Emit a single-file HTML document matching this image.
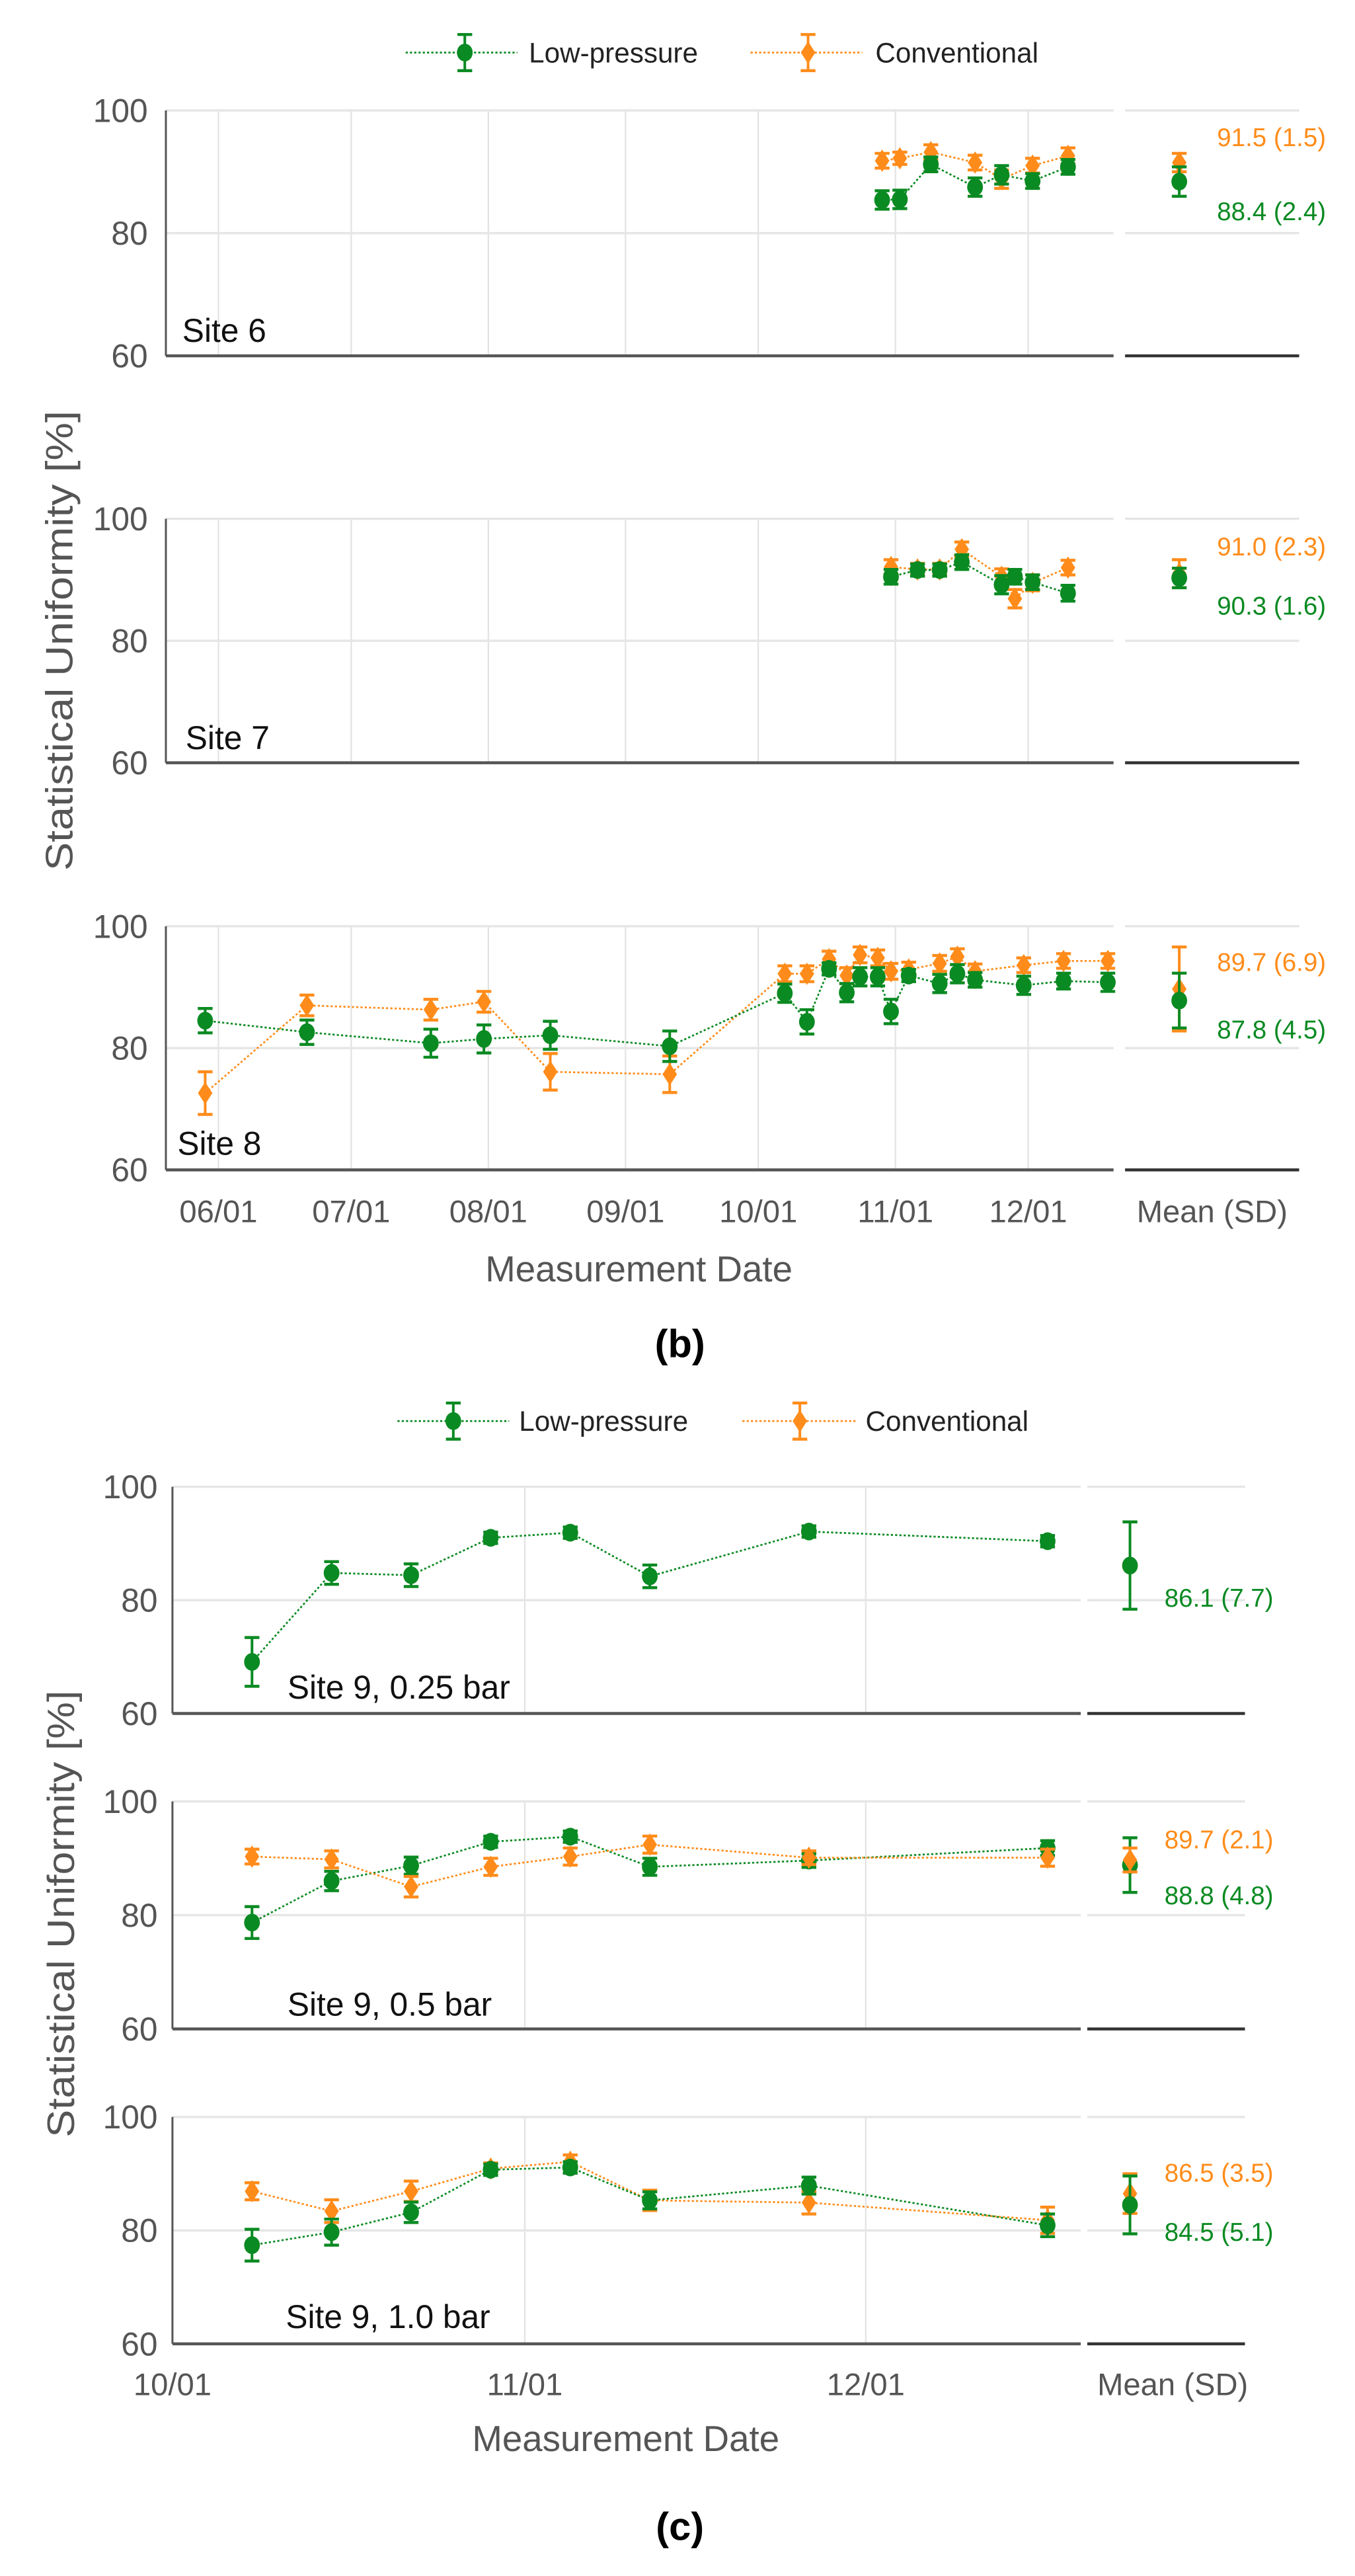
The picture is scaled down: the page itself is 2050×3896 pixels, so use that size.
<!DOCTYPE html>
<html><head><meta charset="utf-8"><style>
html,body{margin:0;padding:0;background:#fff;}
svg{display:block;}
text{font-family:"Liberation Sans",Arial,sans-serif;}
</style></head><body>
<svg id="chart" xmlns="http://www.w3.org/2000/svg" width="2050" height="3896" viewBox="0 0 825 1568" preserveAspectRatio="none">
<g id="layer"></g>
</svg>
<script>
// ---------- DATA ----------
const site6Dates = ["10-29","11-02","11-09","11-19","11-25","12-02","12-10"];
const site6Low = [85.4,85.5,91.2,87.5,89.5,88.5,90.8];
const site6LowErr = [1.5,1.5,1.2,1.5,1.5,1.2,1.2];
const site6Conv = [91.8,92.2,93.2,91.5,88.8,91.0,92.6];
const site6ConvErr = [1.2,1.0,1.2,1.2,1.5,1.2,1.3];
const site6Mean = {low:[88.4,2.4], conv:[91.5,1.5]};

const site7Dates = ["10-31","11-06","11-11","11-16","11-25","11-28","12-02","12-10"];
const site7Low = [90.5,91.6,91.6,92.9,89.2,90.5,89.6,87.8];
const site7LowErr = [1.2,1.0,1.0,1.2,1.5,1.2,1.2,1.3];
const site7Conv = [92.1,91.7,91.7,95.0,90.5,86.9,89.5,92.0];
const site7ConvErr = [1.2,1.0,1.0,1.2,1.3,1.5,1.3,1.2];
const site7Mean = {low:[90.3,1.6], conv:[91.0,2.3]};

const site8Dates = ["05-29","06-21","07-19","07-31","08-15","09-11","10-07","10-12","10-17","10-21","10-24","10-28","10-31","11-04","11-11","11-15","11-19","11-30","12-09","12-19"];
const site8Low = [84.5,82.6,80.8,81.5,82.1,80.3,89.0,84.3,93.0,89.1,91.7,91.7,86.0,91.9,90.6,92.2,91.2,90.3,91.0,90.8];
const site8LowErr = [2.0,2.0,2.3,2.3,2.3,2.5,1.5,2.0,1.0,1.5,1.5,1.5,2.0,1.0,1.5,1.5,1.2,1.5,1.3,1.5];
const site8Conv = [72.6,87.0,86.3,87.6,76.1,75.7,92.2,92.2,94.6,91.9,95.3,94.8,92.6,92.9,93.9,95.0,92.6,93.6,94.3,94.3];
const site8ConvErr = [3.5,1.7,1.7,1.7,3.0,3.0,1.3,1.3,1.3,1.3,1.3,1.3,1.3,1.2,1.3,1.3,1.2,1.2,1.2,1.2];
const site8Mean = {low:[87.8,4.5], conv:[89.7,6.9]};

const site9Dates = ["10-08","10-15","10-22","10-29","11-05","11-12","11-26","12-17"];
const s9aLow = [69.1,84.8,84.4,91.0,91.9,84.2,92.1,90.4];
const s9aLowErr = [4.3,2.0,2.0,1.0,1.0,2.0,1.0,1.0];
const s9aMean = {low:[86.1,7.7]};
const s9bLow = [78.7,86.0,88.7,92.9,93.8,88.5,89.6,91.8];
const s9bLowErr = [2.8,1.7,1.5,1.0,1.0,1.5,1.2,1.3];
const s9bConv = [90.3,89.8,85.0,88.5,90.3,92.4,90.1,90.1];
const s9bConvErr = [1.3,1.5,1.8,1.5,1.5,1.5,1.2,1.5];
const s9bMean = {low:[88.8,4.8], conv:[89.7,2.1]};
const s9cLow = [77.4,79.7,83.2,90.7,91.1,85.3,87.9,80.9];
const s9cLowErr = [2.8,2.3,1.8,1.0,1.0,1.5,1.5,2.0];
const s9cConv = [86.9,83.4,86.9,90.9,92.1,85.3,84.9,81.8];
const s9cConvErr = [1.5,2.0,1.8,1.0,1.2,1.8,2.0,2.3];
const s9cMean = {low:[84.5,5.1], conv:[86.5,3.5]};

const yTicks = [60,80,100];
const monthTicksB = ["06/01","07/01","08/01","09/01","10/01","11/01","12/01"];
const monthTicksC = ["10/01","11/01","12/01"];

// ---------- HELPERS ----------
const NS = "http://www.w3.org/2000/svg";
const layer = document.getElementById("layer");
const GREEN = "#0a8a22", ORANGE = "#ff8c1a";
const monthStart = {5:-31,6:0,7:30,8:61,9:92,10:122,11:153,12:183};
function dayOf(md){ const p = md.split(/[-\/]/).map(Number); return monthStart[p[0]] + p[1] - 1; }
function mk(tag, attrs, parent){ const e = document.createElementNS(NS, tag); for (const k in attrs) e.setAttribute(k, attrs[k]); (parent||layer).appendChild(e); return e; }
function txt(s, attrs, parent){ const e = mk("text", attrs, parent); e.textContent = s; return e; }

function errBar(g, x, yTop, yBot, color, cap){
  mk("line",{x1:x,x2:x,y1:yTop,y2:yBot,stroke:color,"stroke-width":1.6},g);
  mk("line",{x1:x-cap,x2:x+cap,y1:yTop,y2:yTop,stroke:color,"stroke-width":1.8},g);
  mk("line",{x1:x-cap,x2:x+cap,y1:yBot,y2:yBot,stroke:color,"stroke-width":1.8},g);
}
function marker(g, x, y, kind, color){
  if (kind === "circle") return mk("ellipse",{cx:x,cy:y,rx:4.8,ry:5.4,fill:color},g);
  return mk("path",{d:`M${x} ${y-6.8} L${x+4.4} ${y} L${x} ${y+6.8} L${x-4.4} ${y} Z`,fill:color},g);
}

function panel(cfg){
  const P = mk("g",{});
  
  
  const yS = v => cfg.y100 + (100 - v) * (cfg.y60 - cfg.y100) / 40;
  const xS = d => cfg.x0 + (dayOf(d) - cfg.day0) * cfg.ppd;
  cfg.vticks.forEach(t => {
    const gl = mk("line",{x1:xS(t),x2:xS(t),y1:cfg.y100,y2:cfg.y60,stroke:"#e3e3e3","stroke-width":0.9},P);
    
    
  });
  yTicks.forEach(v => {
    if (v !== 60) {
      const h1 = mk("line",{x1:cfg.xl,x2:cfg.xr,y1:yS(v),y2:yS(v),stroke:"#e6e6e6","stroke-width":1.4},P);
      
      
      const h2 = mk("line",{x1:cfg.ml,x2:cfg.mr,y1:yS(v),y2:yS(v),stroke:"#e6e6e6","stroke-width":1.4},P);
      
      
    }
    const tl = txt(String(v),{x:cfg.tickX,y:yS(v)+7,"text-anchor":"end","font-size":20,fill:"#555"},P);
    
    
  });
  const ax = mk("line",{x1:cfg.xl,x2:cfg.xl,y1:cfg.y100,y2:cfg.y60,stroke:"#555","stroke-width":1.2},P);
  
  
  const bx = mk("line",{x1:cfg.xl,x2:cfg.xr,y1:cfg.y60,y2:cfg.y60,stroke:"#555","stroke-width":1.8},P);
  
  
  const mb = mk("line",{x1:cfg.ml,x2:cfg.mr,y1:cfg.y60,y2:cfg.y60,stroke:"#333","stroke-width":1.8},P);
  
  
  const sl = txt(cfg.label,{x:cfg.labelX,y:cfg.labelY,"font-size":20,fill:"#111"},P);
  
  

  cfg.series.forEach(s => {
    const g = mk("g",{},P);
    
    
    const pts = cfg.dates.map((d,i) => [xS(d), yS(s.vals[i])]);
    const ln = mk("polyline",{points:pts.map(p=>p.join(",")).join(" "),fill:"none",stroke:s.color,"stroke-width":1.1,"stroke-dasharray":"1.3 1.3"},g);
    
    
    cfg.dates.forEach((d,i) => {
      const x = xS(d), v = s.vals[i], e = s.err[i];
      errBar(g, x, yS(v+e), yS(v-e), s.color, 4.5);
      const m = marker(g, x, yS(v), s.kind, s.color);
      
      
    });
    const mg = mk("g",{},P);
    
    
    const [mv, sd] = s.mean;
    errBar(mg, cfg.meanX, yS(mv+sd), yS(mv-sd), s.color, 4.5);
    const mm = marker(mg, cfg.meanX, yS(mv), s.kind, s.color);
    
    
    const ml = txt(mv.toFixed(1)+" ("+sd.toFixed(1)+")",{x:cfg.meanTextX,y:s.textY,"font-size":15.5,fill:s.color},mg);
    
    
  });
}

function legend(y, gx, ox, gl, gr, ol, or_, gtx, otx){
  const g = mk("g",{});
  
  
  const e1 = mk("g",{},g);
  
  
  mk("line",{x1:gl,x2:gr,y1:y,y2:y,stroke:GREEN,"stroke-width":1.1,"stroke-dasharray":"1.3 1.3"},e1);
  errBar(e1, gx, y-11, y+11, GREEN, 4.5);
  marker(e1, gx, y, "circle", GREEN);
  txt("Low-pressure",{x:gtx,y:y+6,"font-size":17,fill:"#222"},e1);
  const e2 = mk("g",{},g);
  
  
  mk("line",{x1:ol,x2:or_,y1:y,y2:y,stroke:ORANGE,"stroke-width":1.1,"stroke-dasharray":"1.3 1.3"},e2);
  errBar(e2, ox, y-11, y+11, ORANGE, 4.5);
  marker(e2, ox, y, "diamond", ORANGE);
  txt("Conventional",{x:otx,y:y+6,"font-size":17,fill:"#222"},e2);
}

// ---------- FIGURE (b) ----------
legend(32, 283, 492, 247, 315, 457, 525, 322, 533);
const B = {x0:133, day0:0, ppd:2.694, xl:101, xr:678, ml:685, mr:791, tickX:90, meanX:718, meanTextX:741, vticks:monthTicksB.map(s=>s)};
panel(Object.assign({}, B, {name:"panel-site-6", y100:67.2, y60:216.6, label:"Site 6", labelX:111, labelY:208, dates:site6Dates,
  series:[{name:"conventional-series",color:ORANGE,kind:"diamond",vals:site6Conv,err:site6ConvErr,mean:[site6Mean.conv[0],site6Mean.conv[1]],textY:89},
          {name:"low-pressure-series",color:GREEN,kind:"circle",vals:site6Low,err:site6LowErr,mean:[site6Mean.low[0],site6Mean.low[1]],textY:134}]}));
panel(Object.assign({}, B, {name:"panel-site-7", y100:315.8, y60:464.3, label:"Site 7", labelX:113, labelY:456, dates:site7Dates,
  series:[{name:"conventional-series",color:ORANGE,kind:"diamond",vals:site7Conv,err:site7ConvErr,mean:[site7Mean.conv[0],site7Mean.conv[1]],textY:338},
          {name:"low-pressure-series",color:GREEN,kind:"circle",vals:site7Low,err:site7LowErr,mean:[site7Mean.low[0],site7Mean.low[1]],textY:374}]}));
panel(Object.assign({}, B, {name:"panel-site-8", y100:563.8, y60:712.1, label:"Site 8", labelX:108, labelY:703, dates:site8Dates,
  series:[{name:"conventional-series",color:ORANGE,kind:"diamond",vals:site8Conv,err:site8ConvErr,mean:[site8Mean.conv[0],site8Mean.conv[1]],textY:591},
          {name:"low-pressure-series",color:GREEN,kind:"circle",vals:site8Low,err:site8LowErr,mean:[site8Mean.low[0],site8Mean.low[1]],textY:632}]}));
monthTicksB.forEach(t => {
  const l = txt(t,{x:133 + dayOf(t)*2.694, y:744,"text-anchor":"middle","font-size":19,fill:"#555"});
  
  
});
{
  const l = txt("Mean (SD)",{x:738,y:744,"text-anchor":"middle","font-size":19,fill:"#555"});
  
  
  const t = txt("Measurement Date",{x:389,y:780,"text-anchor":"middle","font-size":22,fill:"#555"});
  
  
  const y = txt("Statistical Uniformity [%]",{x:0,y:0,"text-anchor":"middle","font-size":23,fill:"#555",transform:"translate(44,390) rotate(-90)",textLength:280,lengthAdjust:"spacingAndGlyphs"});
  
  
  const c = txt("(b)",{x:414,y:826,"text-anchor":"middle","font-size":24,"font-weight":"bold",fill:"#000","font-family":"Liberation Serif, serif"});
  
  
}

// ---------- FIGURE (c) ----------
legend(865, 276, 487, 242, 310, 452, 521, 316, 527);
const C = {x0:105, day0:122, ppd:6.92, xl:105, xr:658, ml:662, mr:758, tickX:96, meanX:688, meanTextX:709, vticks:monthTicksC.slice(1)};
panel(Object.assign({}, C, {name:"panel-site-9-025-bar", y100:905, y60:1043, label:"Site 9, 0.25 bar", labelX:175, labelY:1034, dates:site9Dates,
  series:[{name:"low-pressure-series",color:GREEN,kind:"circle",vals:s9aLow,err:s9aLowErr,mean:[s9aMean.low[0],s9aMean.low[1]],textY:978}]}));
panel(Object.assign({}, C, {name:"panel-site-9-05-bar", y100:1096.5, y60:1235, label:"Site 9, 0.5 bar", labelX:175, labelY:1227, dates:site9Dates,
  series:[{name:"low-pressure-series",color:GREEN,kind:"circle",vals:s9bLow,err:s9bLowErr,mean:[s9bMean.low[0],s9bMean.low[1]],textY:1159},
          {name:"conventional-series",color:ORANGE,kind:"diamond",vals:s9bConv,err:s9bConvErr,mean:[s9bMean.conv[0],s9bMean.conv[1]],textY:1125}]}));
panel(Object.assign({}, C, {name:"panel-site-9-10-bar", y100:1288.6, y60:1426.7, label:"Site 9, 1.0 bar", labelX:174, labelY:1417, dates:site9Dates,
  series:[{name:"conventional-series",color:ORANGE,kind:"diamond",vals:s9cConv,err:s9cConvErr,mean:[s9cMean.conv[0],s9cMean.conv[1]],textY:1328},
          {name:"low-pressure-series",color:GREEN,kind:"circle",vals:s9cLow,err:s9cLowErr,mean:[s9cMean.low[0],s9cMean.low[1]],textY:1364}]}));
monthTicksC.forEach(t => {
  const l = txt(t,{x:105 + (dayOf(t)-122)*6.92, y:1458,"text-anchor":"middle","font-size":19,fill:"#555"});
  
  
});
{
  const l = txt("Mean (SD)",{x:714,y:1458,"text-anchor":"middle","font-size":19,fill:"#555"});
  
  
  const t = txt("Measurement Date",{x:381,y:1492,"text-anchor":"middle","font-size":22,fill:"#555"});
  
  
  const y = txt("Statistical Uniformity [%]",{x:0,y:0,"text-anchor":"middle","font-size":23,fill:"#555",transform:"translate(45,1165) rotate(-90)",textLength:272,lengthAdjust:"spacingAndGlyphs"});
  
  
  const c = txt("(c)",{x:414,y:1546,"text-anchor":"middle","font-size":24,"font-weight":"bold",fill:"#000","font-family":"Liberation Serif, serif"});
  
  
}
</script>
</body></html>
